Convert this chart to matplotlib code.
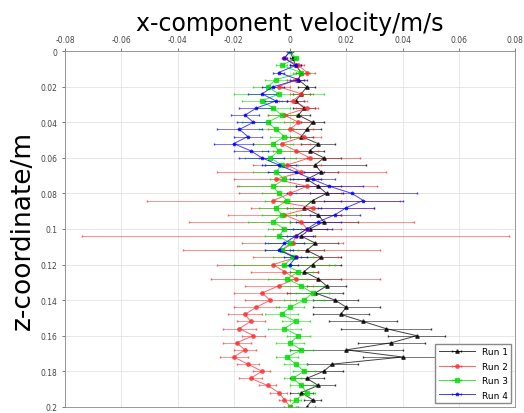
import numpy as np
import matplotlib
matplotlib.use("Agg")
import matplotlib.pyplot as plt

# z positions (m)
z = [0.000, 0.004, 0.008, 0.012, 0.016, 0.020, 0.024, 0.028, 0.032, 0.036,
     0.040, 0.044, 0.048, 0.052, 0.056, 0.060, 0.064, 0.068, 0.072, 0.076,
     0.080, 0.084, 0.088, 0.092, 0.096, 0.100, 0.104, 0.108, 0.112, 0.116,
     0.120, 0.124, 0.128, 0.132, 0.136, 0.140, 0.144, 0.148, 0.152, 0.156,
     0.160, 0.164, 0.168, 0.172, 0.176, 0.180, 0.184, 0.188, 0.192, 0.196,
     0.200]

# x-component velocity (m/s) and horizontal error
v_k = [0.000, 0.001, 0.002, 0.004, 0.003, 0.006, 0.004, 0.002, 0.005, 0.003,
       0.008, 0.006, 0.004, 0.010, 0.007, 0.012, 0.009, 0.011, 0.006, 0.010,
       0.013, 0.008, 0.005, 0.010, 0.012, 0.007, 0.004, 0.009, 0.006, 0.011,
       0.008, 0.005, 0.010, 0.013, 0.009, 0.016, 0.020, 0.018, 0.026, 0.034,
       0.045, 0.036, 0.020, 0.040, 0.015, 0.012, 0.006, 0.010, 0.004, 0.008,
       0.006]
e_k = [0.001, 0.001, 0.002, 0.002, 0.002, 0.003, 0.003, 0.003, 0.004, 0.004,
       0.004, 0.005, 0.004, 0.006, 0.005, 0.006, 0.018, 0.006, 0.005, 0.008,
       0.006, 0.010, 0.006, 0.008, 0.012, 0.006, 0.005, 0.008, 0.006, 0.007,
       0.010, 0.005, 0.008, 0.007, 0.010, 0.008, 0.012, 0.010, 0.012, 0.016,
       0.010, 0.012, 0.020, 0.014, 0.009, 0.007, 0.006, 0.006, 0.004, 0.003,
       0.003]

v_r = [0.000, -0.002, 0.003, 0.006, 0.002, -0.004, 0.004, 0.001, 0.006, -0.002,
       0.003, 0.000, 0.005, -0.003, 0.002, 0.007, -0.001, 0.004, -0.005, 0.006,
       0.000, -0.006, 0.008, -0.002, 0.004, 0.006, 0.002, 0.001, -0.003, 0.002,
       -0.006, -0.002, 0.002, -0.004, -0.010, -0.007, -0.012, -0.016, -0.014, -0.018,
       -0.013, -0.019, -0.016, -0.020, -0.015, -0.010, -0.014, -0.008, -0.004, -0.002,
       0.000]
e_r = [0.001, 0.001, 0.002, 0.003, 0.003, 0.004, 0.004, 0.005, 0.004, 0.006,
       0.005, 0.008, 0.006, 0.010, 0.008, 0.018, 0.012, 0.030, 0.015, 0.025,
       0.018, 0.045, 0.022, 0.020, 0.040, 0.012, 0.076, 0.018, 0.035, 0.015,
       0.020, 0.012, 0.030, 0.012, 0.010, 0.009, 0.008, 0.006, 0.005, 0.006,
       0.004, 0.005, 0.004, 0.005, 0.004, 0.003, 0.004, 0.003, 0.003, 0.002,
       0.002]

v_g = [0.000, 0.002, -0.003, 0.004, -0.005, -0.008, -0.004, -0.010, -0.006, -0.003,
       -0.008, -0.005, -0.002, -0.006, -0.004, -0.007, -0.003, -0.005, -0.002, -0.006,
       -0.004, -0.001, -0.005, -0.003, -0.006, -0.002, -0.004, 0.000, -0.003, 0.001,
       -0.002, 0.003, -0.001, 0.004, 0.008, 0.005, 0.000, -0.003, 0.002, -0.002,
       0.003, 0.000, 0.004, -0.001, 0.002, 0.005, 0.001, 0.004, 0.006, 0.002,
       0.000]
e_g = [0.001, 0.001, 0.002, 0.003, 0.004, 0.005, 0.016, 0.007, 0.006, 0.005,
       0.009, 0.006, 0.005, 0.007, 0.006, 0.009, 0.006, 0.008, 0.005, 0.012,
       0.006, 0.008, 0.006, 0.007, 0.009, 0.006, 0.005, 0.008, 0.006, 0.007,
       0.018, 0.005, 0.007, 0.008, 0.006, 0.007, 0.005, 0.006, 0.005, 0.006,
       0.004, 0.005, 0.004, 0.004, 0.004, 0.004, 0.003, 0.004, 0.003, 0.002,
       0.002]

z_b = [0.000, 0.004, 0.008, 0.012, 0.016, 0.020, 0.024, 0.028, 0.032, 0.036,
       0.040, 0.044, 0.048, 0.052, 0.056, 0.060, 0.064, 0.068, 0.072, 0.076,
       0.080, 0.084, 0.088, 0.092, 0.096, 0.100, 0.104, 0.108, 0.112, 0.116,
       0.120]
v_b = [0.000, -0.002, 0.002, -0.004, 0.003, -0.006, -0.010, -0.005, -0.012, -0.016,
       -0.013, -0.018, -0.015, -0.020, -0.014, -0.010, -0.004, 0.002, 0.008, 0.014,
       0.022, 0.026, 0.020, 0.016, 0.010, 0.006, 0.002, -0.002, -0.004, 0.002,
       0.000]
e_b = [0.001, 0.001, 0.002, 0.002, 0.003, 0.004, 0.005, 0.004, 0.006, 0.005,
       0.006, 0.008, 0.005, 0.007, 0.006, 0.008, 0.006, 0.010, 0.008, 0.012,
       0.023, 0.014, 0.010, 0.009, 0.008, 0.009, 0.006, 0.007, 0.005, 0.004,
       0.003]

labels = ['Run 1', 'Run 2', 'Run 3', 'Run 4']

fig = plt.figure(figsize=(5.24, 4.14), dpi=100)
ax = fig.add_axes([0.124, 0.015, 0.859, 0.859])

series = [(z, v_k, e_k, 'k', '^'),
          (z, v_r, e_r, '#ff3030', 'o'),
          (z, v_g, e_g, '#00dd00', 's'),
          (z_b, v_b, e_b, '#0000ff', '*')]

for (zz, vv, ee, c, m), lab in zip(series, labels):
    ax.errorbar(vv, zz, xerr=ee, color=c, marker=m, markersize=2.5,
                linewidth=0.7, elinewidth=0.5, capsize=1, alpha=0.75,
                label=lab)

ax.set_xlim(-0.08, 0.08)
ax.set_ylim(0.2, 0)
ax.set_xticks([-0.08, -0.06, -0.04, -0.02, 0, 0.02, 0.04, 0.06, 0.08])
ax.set_xticklabels(['-0.08', '-0.06', '-0.04', '-0.02', '0', '0.02', '0.04', '0.06', '0.08'])
ax.set_yticks([0, 0.02, 0.04, 0.06, 0.08, 0.1, 0.12, 0.14, 0.16, 0.18, 0.2])
ax.set_yticklabels(['0', '0.02', '0.04', '0.06', '0.08', '0.1', '0.12', '0.14', '0.16', '0.18', '0.2'])
ax.xaxis.tick_top()
ax.xaxis.set_label_position('top')
ax.tick_params(labelsize=5.5, length=2, width=0.5, colors='#444444')
ax.grid(True, color='#dddddd', linewidth=0.5)
for s in ax.spines.values():
    s.set_linewidth(0.6)
    s.set_color('#888888')

ax.set_xlabel('x-component velocity/m/s', fontsize=17, labelpad=3)
ax.set_ylabel('z-coordinate/m', fontsize=19, labelpad=3)

ax.legend(loc='lower right', fontsize=6.5, handlelength=4, framealpha=1,
          edgecolor='#888888', fancybox=False, borderaxespad=0.4,
          labelspacing=0.6)

fig.savefig('out.png', dpi=100)
